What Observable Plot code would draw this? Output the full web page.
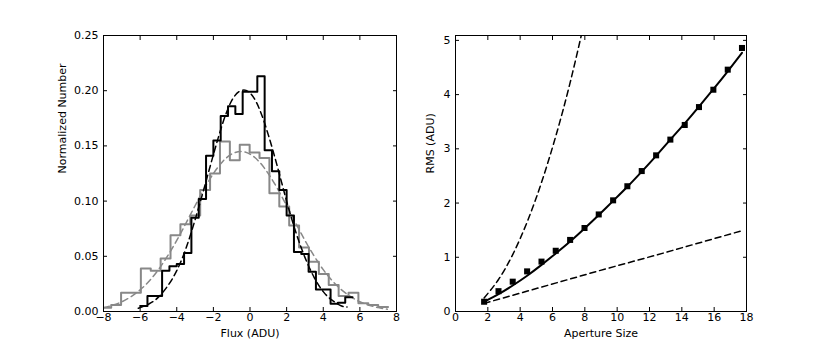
<!DOCTYPE html>
<html><head><meta charset="utf-8">
<script src="https://cdn.jsdelivr.net/npm/d3@7"></script>
<script src="https://cdn.jsdelivr.net/npm/@observablehq/plot@0.6"></script>
<style>
body{margin:0;background:#fff;}
#chart{position:relative;width:830px;height:346px;background:#fff;}
#chart svg{position:absolute;top:0;overflow:visible;}
</style></head><body><div id="chart"></div>
<script>
// ---- Left panel: histograms of flux ----
const blackEdges = [-6.0,-5.6,-5.2,-4.8,-4.4,-4.0,-3.6,-3.2,-2.8,-2.4,-2.0,-1.6,-1.2,-0.8,-0.4,0.0,0.4,0.8,1.2,1.6,2.0,2.4,2.8,3.2,3.6,4.0,4.4,4.8,5.2,5.6];
const blackValues = [0.005,0.014,0.014,0.037,0.041,0.043,0.053,0.085,0.102,0.141,0.155,0.177,0.186,0.179,0.199,0.199,0.213,0.146,0.127,0.110,0.087,0.054,0.052,0.036,0.020,0.020,0.007,0.008,0.013];
const grayEdges = [-8.12,-7.58,-7.04,-6.50,-5.96,-5.42,-4.88,-4.34,-3.80,-3.26,-2.72,-2.18,-1.64,-1.10,-0.56,-0.02,0.52,1.06,1.60,2.14,2.68,3.22,3.76,4.30,4.84,5.38,5.92,6.46,7.00,7.54];
const grayValues = [0.0035,0.006,0.017,0.017,0.039,0.037,0.048,0.069,0.079,0.087,0.110,0.125,0.154,0.137,0.151,0.144,0.139,0.107,0.095,0.078,0.058,0.045,0.034,0.024,0.014,0.017,0.0075,0.006,0.004];
const blackFitX = [-6.1,-5.5,-5,-4.5,-4,-3.5,-3,-2.5,-2,-1.5,-1,-0.5,0,0.5,1,1.5,2,2.5,3,3.5,4,4.5,5,5.3];
const blackFitY = [0.003,0.007,0.013,0.023,0.037,0.057,0.083,0.112,0.142,0.170,0.191,0.200,0.198,0.184,0.160,0.131,0.100,0.072,0.049,0.031,0.018,0.010,0.005,0.004];
const grayFitX = [-8,-7.5,-7,-6.5,-6,-5.5,-5,-4.5,-4,-3.5,-3,-2.5,-2,-1.5,-1,-0.5,0,0.5,1,1.5,2,2.5,3,3.5,4,4.5,5,5.5,6,6.5,7,7.5];
const grayFitY = [0.0035,0.0057,0.0088,0.0134,0.0196,0.0277,0.0379,0.0503,0.0644,0.0799,0.0958,0.1113,0.1249,0.1357,0.1426,0.145,0.1426,0.1357,0.1249,0.1113,0.0958,0.0799,0.0644,0.0503,0.0379,0.0277,0.0196,0.0134,0.0088,0.0057,0.0035,0.0021];
const fluxTicks = [-8,-6,-4,-2,0,2,4,6,8];
const normTicks = [0,0.05,0.10,0.15,0.20,0.25];

// ---- Right panel: RMS vs aperture size ----
const apertureSize = [1.77,2.66,3.54,4.43,5.32,6.20,7.09,7.98,8.86,9.75,10.63,11.52,12.41,13.29,14.18,15.06,15.95,16.84,17.72];
const rmsValues = [0.18,0.375,0.55,0.74,0.92,1.12,1.32,1.54,1.79,2.05,2.31,2.59,2.88,3.17,3.44,3.77,4.09,4.46,4.86];
const rmsFit = [0.18,0.32,0.48,0.66,0.86,1.07,1.29,1.53,1.78,2.04,2.30,2.58,2.87,3.17,3.47,3.78,4.10,4.43,4.77];
const upperDashX = [1.77,2.66,3.54,4.43,5.32,6.20,7.09,7.98];
const upperDashY = [0.25,0.59,1.05,1.65,2.38,3.23,4.22,5.35];
const lowerDashX = [1.77,5.32,8.86,12.41,15.95,17.72];
const lowerDashY = [0.15,0.45,0.75,1.04,1.34,1.49];
const apertureTicks = [0,2,4,6,8,10,12,14,16,18];
const rmsTicks = [0,1,2,3,4,5];

function steps(edges, values) {
  const pts = values.map((v, i) => ({x: edges[i], y: v}));
  pts.push({x: edges[edges.length - 1], y: values[values.length - 1]});
  return pts;
}
const pairs = (xs, ys) => xs.map((x, i) => ({x, y: ys[i]}));

const style = {fontFamily: "'DejaVu Sans', sans-serif", fontSize: "11px", background: "white", color: "black", overflow: "visible"};
const blank = () => "";

function axes(xTicks, yTicks, xFmt, yFmt) {
  return [
    Plot.axisX({anchor: "bottom", ticks: xTicks, tickSize: -4, tickPadding: 6, tickFormat: xFmt, label: null, stroke: "black"}),
    Plot.axisX({anchor: "top", ticks: xTicks, tickSize: -4, tickFormat: blank, label: null, stroke: "black"}),
    Plot.axisY({anchor: "left", ticks: yTicks, tickSize: -4, tickPadding: 9, tickFormat: yFmt, label: null, stroke: "black"}),
    Plot.axisY({anchor: "right", ticks: yTicks, tickSize: -4, tickFormat: blank, label: null, stroke: "black"}),
    Plot.frame({stroke: "black", strokeWidth: 1})
  ];
}

const GRAY = "#888888";

const left = Plot.plot({
  width: 415, height: 346,
  marginLeft: 103, marginRight: 19, marginTop: 35, marginBottom: 35,
  style,
  x: {domain: [-8, 8]},
  y: {domain: [0, 0.25]},
  marks: [
    Plot.line(pairs(grayFitX, grayFitY), {x: "x", y: "y", stroke: GRAY, strokeWidth: 1.5, strokeDasharray: "6,4", curve: "natural", clip: true}),
    Plot.line(steps(grayEdges, grayValues), {x: "x", y: "y", stroke: GRAY, strokeWidth: 2, curve: "step-after", clip: true}),
    Plot.line(pairs(blackFitX, blackFitY), {x: "x", y: "y", stroke: "black", strokeWidth: 1.5, strokeDasharray: "6,4", curve: "natural", clip: true}),
    Plot.line(steps(blackEdges, blackValues), {x: "x", y: "y", stroke: "black", strokeWidth: 2, curve: "step-after", clip: true}),
    ...axes(fluxTicks, normTicks, d3.format("d"), d3.format(".2f")),
    Plot.text(["Normalized Number"], {frameAnchor: "left", dx: -41, rotate: -90, fill: "black"}),
    Plot.text(["Flux (ADU)"], {frameAnchor: "bottom", dy: 25, fill: "black"})
  ]
});
left.style.left = "0px";

const right = Plot.plot({
  width: 415, height: 346,
  marginLeft: 40, marginRight: 84, marginTop: 35, marginBottom: 35,
  style,
  x: {domain: [0, 18]},
  y: {domain: [0, 5.09]},
  marks: [
    Plot.line(pairs(upperDashX, upperDashY), {x: "x", y: "y", stroke: "black", strokeWidth: 1.5, strokeDasharray: "6,4", curve: "natural", clip: true}),
    Plot.line(pairs(lowerDashX, lowerDashY), {x: "x", y: "y", stroke: "black", strokeWidth: 1.5, strokeDasharray: "6,4", clip: true}),
    Plot.line(pairs(apertureSize, rmsFit), {x: "x", y: "y", stroke: "black", strokeWidth: 2, curve: "natural"}),
    Plot.dot(pairs(apertureSize, rmsValues), {x: "x", y: "y", symbol: "square", fill: "black", stroke: "none", r: 3.4}),
    ...axes(apertureTicks, rmsTicks, d3.format("d"), d3.format("d")),
    Plot.text(["RMS (ADU)"], {frameAnchor: "left", dx: -25, rotate: -90, fill: "black"}),
    Plot.text(["Aperture Size"], {frameAnchor: "bottom", dy: 25, fill: "black"})
  ]
});
right.style.left = "415px";

document.getElementById("chart").append(left, right);
</script>
</body></html>
